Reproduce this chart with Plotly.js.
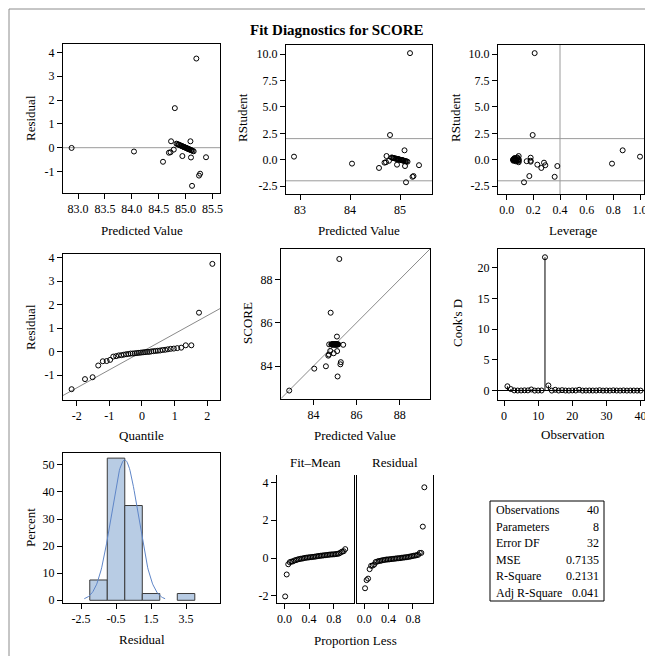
<!DOCTYPE html>
<html><head><meta charset="utf-8">
<script src="https://cdn.plot.ly/plotly-3.0.1.min.js"></script>
<style>html,body{margin:0;padding:0;background:#fff;overflow:hidden}</style>
</head><body><div id="chart" style="width:645px;height:656px"></div>
<script>
// ---------- data ----------
const observation = Array.from({length:40},(_,i)=>i+1);
const predicted = [85.09,84.58,84.93,85.04,84.88,84.69,85.10,85.38,84.97,85.07,84.85,85.20,84.04,84.99,84.80,85.13,85.12,84.90,85.02,84.94,84.83,85.25,85.06,84.95,84.72,85.11,84.87,85.27,85.01,84.73,84.96,85.10,85.15,84.98,82.88,85.05,84.78,84.92,85.08,85.03];
const residual = [0.27,-0.59,0.07,-0.04,0.12,-0.21,-0.10,-0.40,0.03,-0.07,0.15,3.74,-0.16,0.01,1.66,-0.13,-1.60,0.10,-0.02,-0.35,0.17,-1.17,-0.06,0.05,-0.19,-0.11,0.13,-1.09,-0.01,0.27,0.04,-0.41,-0.15,0.02,-0.01,-0.05,-0.08,0.08,-0.08,-0.03];
const leverage = [0.87,0.26,0.07,0.06,0.08,0.28,0.09,0.29,0.05,0.06,0.18,0.21,0.79,0.05,0.195,0.07,0.13,0.06,0.05,0.23,0.08,0.36,0.07,0.09,0.09,0.15,0.06,0.17,0.05,0.09,0.06,0.38,0.18,0.07,1.00,0.08,0.18,0.06,0.05,0.09];
const rstudent = [0.89,-0.78,0.08,-0.05,0.15,-0.28,-0.12,-0.52,0.04,-0.08,0.19,10.1,-0.37,0.01,2.34,-0.16,-2.14,0.12,-0.02,-0.47,0.21,-1.62,-0.07,0.06,-0.24,-0.14,0.16,-1.55,-0.01,0.35,0.05,-0.60,-0.19,0.02,0.29,-0.06,-0.10,0.10,-0.10,-0.04];
const cooksD = [0.72,0.27,0.05,0.03,0.04,0.06,0.05,0.20,0.02,0.03,0.04,21.7,0.85,0.02,0.15,0.03,0.09,0.03,0.02,0.05,0.04,0.15,0.02,0.03,0.04,0.03,0.03,0.08,0.02,0.04,0.02,0.06,0.03,0.02,0.05,0.02,0.03,0.03,0.02,0.02];
const statLabels = ["Observations","Parameters","Error DF","MSE","R-Square","Adj R-Square"];
const statValues = ["40","8","32","0.7135","0.2131","0.041"];

// tick values per axis
const predTicks1 = [83,83.5,84,84.5,85,85.5];
const predTicks2 = [83,84,85];
const resTicks = [-1,0,1,2,3,4];
const rstudTicks = [-2.5,0,2.5,5,7.5,10];
const levTicks = [0,0.2,0.4,0.6,0.8,1.0];
const qTicks = [-2,-1,0,1,2];
const scoreTicks = [84,86,88];
const obsTicks = [0,10,20,30,40];
const cookTicks = [0,5,10,15,20];
const histTicks = [-2.5,-0.5,1.5,3.5];
const pctTicks = [0,10,20,30,40,50];
const propTicks = [0,0.4,0.8];
const spreadTicks = [-2,0,2,4];

// ---------- derived ----------
const n = predicted.length;
const score = predicted.map((p,i)=>+(p+residual[i]).toFixed(2));
const meanPred = predicted.reduce((a,b)=>a+b,0)/n;
const fitMean = predicted.map(p=>p-meanPred).sort((a,b)=>a-b);
const residSorted = residual.slice().sort((a,b)=>a-b);
const meanRes = residual.reduce((a,b)=>a+b,0)/n;
const sdRes = Math.sqrt(residual.reduce((a,b)=>a+(b-meanRes)**2,0)/(n-1));
const propLess = residSorted.map((_,i)=>(i+0.5)/n);

function qnorm(p){
 const a=[-3.969683028665376e+01,2.209460984245205e+02,-2.759285104469687e+02,1.383577518672690e+02,-3.066479806614716e+01,2.506628277459239e+00];
 const b=[-5.447609879822406e+01,1.615858368580409e+02,-1.556989798598866e+02,6.680131188771972e+01,-1.328068155288572e+01];
 const c=[-7.784894002430293e-03,-3.223964580411365e-01,-2.400758277161838e+00,-2.549732539343734e+00,4.374664141464968e+00,2.938163982698783e+00];
 const d=[7.784695709041462e-03,3.224671290700398e-01,2.445134137142996e+00,3.754408661907416e+00];
 const pl=0.02425, ph=1-pl; let q,r;
 if(p<pl){q=Math.sqrt(-2*Math.log(p));return (((((c[0]*q+c[1])*q+c[2])*q+c[3])*q+c[4])*q+c[5])/((((d[0]*q+d[1])*q+d[2])*q+d[3])*q+1);}
 if(p<=ph){q=p-0.5;r=q*q;return (((((a[0]*r+a[1])*r+a[2])*r+a[3])*r+a[4])*r+a[5])*q/(((((b[0]*r+b[1])*r+b[2])*r+b[3])*r+b[4])*r+1);}
 q=Math.sqrt(-2*Math.log(1-p));return -(((((c[0]*q+c[1])*q+c[2])*q+c[3])*q+c[4])*q+c[5])/((((d[0]*q+d[1])*q+d[2])*q+d[3])*q+1);
}
const quantiles = residSorted.map((_,i)=>qnorm((i+1-0.375)/(n+0.25)));

// normal curve for histogram
const curveX=[], curveY=[];
for(let k=0;k<=120;k++){const x=meanRes-3*sdRes+6*sdRes*k/120; curveX.push(x);
 curveY.push(100*Math.exp(-0.5*((x-meanRes)/sdRes)**2)/(sdRes*Math.sqrt(2*Math.PI)));}

// ---------- layout helpers ----------
const W=645,H=656,F='"Liberation Serif","Times New Roman",serif';
const dx=(a,b)=>[a/W,b/W], dy=(top,bot)=>[1-bot/H,1-top/H];
const tt=(vals,dec)=>({tickvals:vals,ticktext:vals.map(v=>v.toFixed(dec))});
function ax(domain,range,anchor,extra){
 return Object.assign({domain,range,anchor,showline:true,linecolor:'#000',linewidth:1,mirror:true,
  ticks:'outside',ticklen:5,tickwidth:1,tickcolor:'#000',tickfont:{family:F,size:12,color:'#000'},
  showgrid:false,zeroline:false,fixedrange:true,ticklabeloverflow:'allow',automargin:false},extra||{});
}
function ann(text,x,y,o){return Object.assign({text,xref:'paper',yref:'paper',x:x/W,y:1-y/H,showarrow:false,
  font:{family:F,size:13,color:'#000'},xanchor:'center',yanchor:'middle'},o||{});}
const mk={symbol:'circle-open',size:5,color:'#000',line:{width:1}};
const sc=(x,y,xa,ya)=>({type:'scatter',mode:'markers',x,y,xaxis:xa,yaxis:ya,marker:mk,cliponaxis:true,hoverinfo:'skip'});

const predRange=[82.72,85.64], scoreRange=[82.5,89.4];
const qqRange=[-2.42,2.39];

const traces=[
 sc(predicted,residual,'x','y'),
 sc(predicted,rstudent,'x2','y2'),
 sc(leverage,rstudent,'x3','y3'),
 {type:'scatter',mode:'lines',x:qqRange,y:qqRange.map(q=>meanRes+sdRes*q),xaxis:'x4',yaxis:'y4',line:{color:'#8a8a8a',width:1},hoverinfo:'skip'},
 sc(quantiles,residSorted,'x4','y4'),
 {type:'scatter',mode:'lines',x:scoreRange,y:scoreRange,xaxis:'x5',yaxis:'y5',line:{color:'#8a8a8a',width:1},hoverinfo:'skip'},
 sc(predicted,score,'x5','y5'),
 {type:'scatter',mode:'markers',x:observation,y:cooksD,xaxis:'x6',yaxis:'y6',marker:{symbol:'circle-open',size:5,color:'#000',line:{width:1}},
  error_y:{type:'data',symmetric:false,array:cooksD.map(()=>0),arrayminus:cooksD,width:0,color:'#000',thickness:1},hoverinfo:'skip'},
 {type:'histogram',x:residual,xaxis:'x7',yaxis:'y7',histnorm:'percent',xbins:{start:-2,end:4,size:1},autobinx:false,
  marker:{color:'#b8cce4',line:{color:'#3a3a3a',width:1}},hoverinfo:'skip'},
 {type:'scatter',mode:'lines',x:curveX,y:curveY,xaxis:'x7',yaxis:'y7',line:{color:'#5f86c8',width:1},hoverinfo:'skip'},
 sc(propLess,fitMean,'x8','y8'),
 sc(propLess,residSorted,'x9','y9')
];

const spreadRange=[-2.38,4.39];
const layout={
 width:W,height:H,margin:{l:0,r:0,t:0,b:0},paper_bgcolor:'#fff',plot_bgcolor:'rgba(0,0,0,0)',showlegend:false,bargap:0,
 font:{family:F,color:'#000'},
 xaxis: ax(dx(63,220),predRange,'y',tt(predTicks1,1)),
 yaxis: ax(dy(44,193),[-1.9,4.35],'x',tt(resTicks,0)),
 xaxis2: ax(dx(286,432),predRange,'y2',tt(predTicks2,0)),
 yaxis2: ax(dy(44.7,194),[-3.25,10.9],'x2',tt(rstudTicks,1)),
 xaxis3: ax(dx(498,644),[-0.065,1.03],'y3',tt(levTicks,1)),
 yaxis3: ax(dy(44.7,194),[-3.25,10.9],'x3',tt(rstudTicks,1)),
 xaxis4: ax(dx(63,220),qqRange,'y4',tt(qTicks,0)),
 yaxis4: ax(dy(254,400),[-2.06,4.16],'x4',tt(resTicks,0)),
 xaxis5: ax(dx(281,430),scoreRange,'y5',tt(scoreTicks,0)),
 yaxis5: ax(dy(249,399),[82.48,89.4],'x5',tt(scoreTicks,0)),
 xaxis6: ax(dx(498,644),[-1.76,41],'y6',tt(obsTicks,0)),
 yaxis6: ax(dy(249,400),[-1.51,23.04],'x6',Object.assign(tt(cookTicks,0),{zeroline:true,zerolinecolor:'#000',zerolinewidth:1})),
 xaxis7: ax(dx(63,220),[-3.53,5.44],'y7',tt(histTicks,1)),
 yaxis7: ax(dy(453,603),[-1,54.4],'x7',tt(pctTicks,0)),
 xaxis8: ax(dx(277,354),[-0.12,1.13],'y8',Object.assign(tt(propTicks,1),{mirror:false})),
 yaxis8: ax(dy(475,603),spreadRange,'x8',tt(spreadTicks,0)),
 xaxis9: ax(dx(357,433),[-0.12,1.13],'y9',Object.assign(tt(propTicks,1),{mirror:false})),
 yaxis9: ax(dy(475,603),spreadRange,'x9',{tickvals:spreadTicks,showticklabels:false,ticks:''}),
 shapes:[
  {type:'rect',xref:'paper',yref:'paper',x0:9/W,x1:1.05,y0:-0.05,y1:1-9/H,line:{color:'#8c8c8c',width:1},layer:'below'},
  {type:'line',xref:'x domain',yref:'y',x0:0,x1:1,y0:0,y1:0,line:{color:'#9a9a9a',width:1},layer:'below'},
  {type:'line',xref:'x2 domain',yref:'y2',x0:0,x1:1,y0:2,y1:2,line:{color:'#9a9a9a',width:1},layer:'below'},
  {type:'line',xref:'x2 domain',yref:'y2',x0:0,x1:1,y0:-2,y1:-2,line:{color:'#9a9a9a',width:1},layer:'below'},
  {type:'line',xref:'x3 domain',yref:'y3',x0:0,x1:1,y0:2,y1:2,line:{color:'#9a9a9a',width:1},layer:'below'},
  {type:'line',xref:'x3 domain',yref:'y3',x0:0,x1:1,y0:-2,y1:-2,line:{color:'#9a9a9a',width:1},layer:'below'},
  {type:'line',xref:'x3',yref:'y3 domain',x0:0.4,x1:0.4,y0:0,y1:1,line:{color:'#9a9a9a',width:1},layer:'below'},
  {type:'rect',xref:'paper',yref:'paper',x0:490/W,x1:604/W,y0:1-601/H,y1:1-501/H,line:{color:'#000',width:1}}
 ],
 annotations:[
  ann('<b>Fit Diagnostics for SCORE</b>',337,30,{font:{family:F,size:15,color:'#000'}}),
  ann('Residual',30,118,{textangle:-90}), ann('Predicted Value',141.5,230),
  ann('RStudent',242,118,{textangle:-90}), ann('Predicted Value',359,230),
  ann('RStudent',455,118,{textangle:-90}), ann('Leverage',573,230),
  ann('Residual',30,327,{textangle:-90}), ann('Quantile',141.5,435),
  ann('SCORE',247,323,{textangle:-90}), ann('Predicted Value',355,435),
  ann("Cook's D",457,323,{textangle:-90}), ann('Observation',573,434),
  ann('Percent',30,528,{textangle:-90}), ann('Residual',141.5,639),
  ann('Fit–Mean',315,462), ann('Residual',395,462), ann('Proportion Less',355,640),
  ...statLabels.map((t,i)=>ann(t,494,510+i*16.6,{xanchor:'left',font:{family:F,size:12,color:'#000'}})),
  ...statValues.map((t,i)=>ann(t,601,510+i*16.6,{xanchor:'right',font:{family:F,size:12,color:'#000'}}))
 ]
};
Plotly.newPlot('chart',traces,layout,{staticPlot:true,displayModeBar:false});
</script></body></html>
